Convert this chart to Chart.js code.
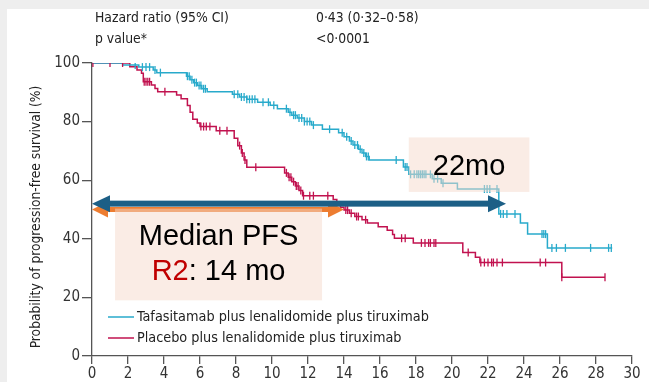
<!DOCTYPE html>
<html>
<head>
<meta charset="utf-8">
<script src="https://cdn.jsdelivr.net/npm/chart.js@4/dist/chart.umd.min.js"></script>
<style>
  html, body { margin: 0; padding: 0; background: #eeeeee; }
  #frame { position: absolute; left: 7px; top: 9px; width: 642px; height: 373px; background: #ffffff; }
  canvas { display: block; }
</style>
</head>
<body>
<div id="frame"><canvas id="km" width="642" height="373"></canvas></div>
<script>
// Kaplan-Meier progression-free survival, two arms.
// Event times (months) and survival (%) just after each step.
const tafaTimes = [0, 1.7, 2.6, 3.4, 3.6, 5.25, 5.45, 5.65, 5.85, 6.1, 6.4, 7.8, 8.2, 8.6, 9.2, 9.9, 10.3, 10.9, 11.1, 11.4, 11.8, 12.2, 12.8, 13.7, 14.0, 14.3, 14.5, 14.8, 15.0, 15.2, 15.4, 17.3, 17.6, 18.9, 19.4, 20.3, 22.6, 23.8, 24.2, 25.3, 28.9];
const tafaSurv  = [100, 99.3, 98.6, 97.6, 96.7, 95.5, 94.3, 93.3, 92.3, 91.2, 90.2, 89.3, 88.4, 87.6, 86.6, 85.6, 84.4, 83.2, 82.2, 81.2, 80.0, 78.8, 77.4, 76.2, 74.8, 73.4, 72.0, 70.6, 69.3, 68.1, 66.9, 64.5, 62.0, 60.5, 59.0, 57.0, 48.5, 45.4, 41.6, 36.9, 36.9];
const tafaCensored = [2.4, 2.8, 3.0, 3.2, 3.5, 3.8, 5.3, 5.4, 5.55, 5.7, 5.8, 5.95, 6.05, 6.2, 6.3, 7.9, 8.1, 8.3, 8.45, 8.6, 8.75, 8.9, 9.05, 9.5, 9.8, 10.1, 10.8, 11.0, 11.2, 11.3, 11.5, 11.65, 11.8, 11.95, 12.1, 12.3, 13.2, 13.9, 14.15, 14.4, 14.6, 14.75, 14.9, 15.1, 15.25, 15.35, 16.9, 17.4, 17.5, 17.7, 17.9, 18.05, 18.15, 18.25, 18.35, 18.45, 18.55, 18.8, 19.0, 19.2, 19.5, 21.8, 21.95, 22.1, 22.5, 22.7, 22.85, 23.05, 23.5, 25.0, 25.1, 25.2, 25.55, 25.8, 26.3, 27.7, 28.7, 28.85];

const placTimes = [0, 2.1, 2.5, 2.75, 2.85, 3.3, 3.5, 3.65, 4.7, 4.95, 5.3, 5.45, 5.6, 5.85, 6.0, 6.9, 7.9, 8.1, 8.3, 8.45, 8.6, 10.7, 10.9, 11.1, 11.3, 11.5, 11.7, 13.4, 13.6, 13.8, 14.0, 14.3, 14.6, 15.0, 15.3, 15.9, 16.4, 16.7, 16.8, 17.85, 20.6, 21.3, 21.55, 26.1, 28.5];
const placSurv  = [100, 98.7, 97.6, 96.5, 93.6, 92.5, 91.3, 90.2, 89.1, 87.8, 85.5, 83.2, 80.8, 79.5, 78.3, 76.9, 74.3, 71.8, 69.3, 66.9, 64.4, 62.5, 61.0, 59.5, 58.0, 56.5, 54.7, 53.4, 52.0, 50.8, 49.8, 48.7, 47.6, 46.5, 45.4, 44.1, 42.9, 41.5, 40.2, 38.6, 35.3, 33.7, 31.9, 26.9, 26.9];
const placCensored = [0.05, 1.0, 1.7, 2.9, 3.0, 3.1, 3.2, 4.05, 6.05, 6.2, 6.35, 6.55, 7.1, 7.5, 8.2, 8.35, 8.5, 9.1, 10.8, 10.95, 11.05, 11.2, 11.35, 11.45, 11.6, 11.75, 12.1, 12.3, 13.1, 14.1, 14.2, 14.4, 14.7, 14.8, 15.2, 17.2, 17.4, 18.3, 18.5, 18.7, 18.8, 19.0, 19.1, 20.9, 21.6, 21.8, 22.0, 22.2, 22.3, 22.5, 22.8, 24.9, 25.2, 26.1, 28.5];

const seriesNames = ['Tafasitamab plus lenalidomide plus tiruximab', 'Placebo plus lenalidomide plus tiruximab'];
const xTicks = [0, 2, 4, 6, 8, 10, 12, 14, 16, 18, 20, 22, 24, 26, 28, 30];
const yTicks = [0, 20, 40, 60, 80, 100];

// Medians (months) and the survival level each indicator arrow sits on
const medianArrows = [
  { label: 'R2', end: 14.0, level: 50, color: '#ed7d31' },
  { label: 'tafa', end: 23.0, level: 52, color: '#1c5f86' }
];
const statNames  = ['Hazard ratio (95% CI)', 'p value*'];
const statValues = ['0·43 (0·32–0·58)', '<0·0001'];

const BLUE = '#28aacb';
const RED = '#c1124f';
const NARROW = '"Liberation Sans Narrow", "DejaVu Sans Condensed", "Liberation Sans", sans-serif';
const SANS = '"Liberation Sans", Arial, sans-serif';

function stepValue(times, surv, t) {
  let v = surv[0];
  for (let i = 0; i < times.length; i++) { if (times[i] <= t) v = surv[i]; else break; }
  return v;
}
const toPoints = (ts, ss) => ts.map((t, i) => ({ x: t, y: ss[i] }));
const censorPoints = (cs, ts, ss) => cs.map(t => ({ x: t, y: stepValue(ts, ss, t) }));

function arrow(ctx, x0, x1, y, shaft, headLen, headHalf, color) {
  ctx.save();
  ctx.fillStyle = color;
  ctx.fillRect(x0 + headLen - 1, y - shaft / 2, (x1 - x0) - 2 * headLen + 2, shaft);
  ctx.beginPath();
  ctx.moveTo(x0, y); ctx.lineTo(x0 + headLen, y - headHalf); ctx.lineTo(x0 + headLen, y + headHalf); ctx.closePath();
  ctx.fill();
  ctx.beginPath();
  ctx.moveTo(x1, y); ctx.lineTo(x1 - headLen, y - headHalf); ctx.lineTo(x1 - headLen, y + headHalf); ctx.closePath();
  ctx.fill();
  ctx.restore();
}

const overlay = {
  id: 'overlay',
  afterDatasetsDraw(chart) {
    const { ctx } = chart;
    const xs = chart.scales.x, ys = chart.scales.y;
    const X = v => xs.getPixelForValue(v), Y = v => ys.getPixelForValue(v);

    // median arrows
    const a0 = medianArrows[0], a1 = medianArrows[1];
    arrow(ctx, X(0), X(a0.end), Y(a0.level), 5, 16, 8, a0.color);
    arrow(ctx, X(0), X(a1.end), Y(a1.level), 6, 18, 8.5, a1.color);

    // translucent call-out boxes
    ctx.save();
    ctx.fillStyle = 'rgba(246, 218, 204, 0.5)';
    ctx.fillRect(X(1.28), Y(50.3), X(12.78) - X(1.28), Y(19.0) - Y(50.3));
    ctx.fillRect(X(17.6), Y(74.6), X(24.3) - X(17.6), Y(56.0) - Y(74.6));
    ctx.restore();

    ctx.save();
    ctx.font = '29px ' + SANS;
    ctx.textBaseline = 'alphabetic';
    ctx.fillStyle = '#000';
    ctx.textAlign = 'center';
    const cx = (X(1.28) + X(12.78)) / 2;
    ctx.fillText('Median PFS', cx, 236);
    const p1 = 'R2', p2 = ': 14 mo';
    const w1 = ctx.measureText(p1).width, w2 = ctx.measureText(p2).width;
    ctx.textAlign = 'left';
    const sx = cx - (w1 + w2) / 2;
    ctx.fillStyle = '#c00000';
    ctx.fillText(p1, sx, 271);
    ctx.fillStyle = '#000';
    ctx.fillText(p2, sx + w1, 271);
    ctx.textAlign = 'center';
    ctx.fillText('22mo', (X(17.6) + X(24.3)) / 2, 166);
    ctx.restore();
  },
  afterDraw(chart) {
    const { ctx } = chart;
    ctx.save();
    ctx.fillStyle = '#222';
    ctx.font = '13.8px ' + NARROW;
    ctx.textBaseline = 'alphabetic';
    ctx.textAlign = 'left';
    statNames.forEach((s, i) => ctx.fillText(s, 88, 13 + i * 21));
    statValues.forEach((s, i) => ctx.fillText(s, 309, 13 + i * 21));

    // axis title
    ctx.font = '13.7px ' + NARROW;
    ctx.translate(29, 208);
    ctx.rotate(-Math.PI / 2);
    ctx.textAlign = 'center';
    ctx.textBaseline = 'middle';
    ctx.fillText('Probability of progression-free survival (%)', 0, 0);
    ctx.restore();

    // legend
    ctx.save();
    ctx.font = '14.3px ' + NARROW;
    ctx.textBaseline = 'middle';
    ctx.textAlign = 'left';
    [BLUE, RED].forEach((c, i) => {
      const y = 308 + i * 21;
      ctx.strokeStyle = c; ctx.lineWidth = 1.5;
      ctx.beginPath(); ctx.moveTo(101, y); ctx.lineTo(127, y); ctx.stroke();
      ctx.fillStyle = '#222';
      ctx.fillText(seriesNames[i], 130, y);
    });
    ctx.restore();
  }
};

const tickFont = { family: NARROW, size: 15 };

new Chart(document.getElementById('km'), {
  type: 'line',
  data: {
    datasets: [
      { label: seriesNames[1], data: toPoints(placTimes, placSurv), borderColor: RED, borderWidth: 1.5, stepped: true, pointRadius: 0, fill: false, order: 4 },
      { label: seriesNames[0], data: toPoints(tafaTimes, tafaSurv), borderColor: BLUE, borderWidth: 1.5, stepped: true, pointRadius: 0, fill: false, order: 3 },
      { type: 'scatter', label: 'censored-placebo', data: censorPoints(placCensored, placTimes, placSurv), pointStyle: 'line', rotation: 90, radius: 4, borderColor: RED, borderWidth: 1.3, order: 2 },
      { type: 'scatter', label: 'censored-tafa', data: censorPoints(tafaCensored, tafaTimes, tafaSurv), pointStyle: 'line', rotation: 90, radius: 4, borderColor: BLUE, borderWidth: 1.3, order: 1 }
    ]
  },
  options: {
    responsive: false,
    animation: false,
    devicePixelRatio: 1,
    layout: { padding: { top: 54, right: 17, left: 0, bottom: 0 } },
    plugins: { legend: { display: false }, tooltip: { enabled: false }, title: { display: false } },
    scales: {
      x: {
        type: 'linear', min: 0, max: 30,
        afterBuildTicks: s => { s.ticks = xTicks.map(v => ({ value: v })); },
        afterFit: s => { s.height = 26; },
        ticks: { font: tickFont, color: '#333', padding: 1, maxRotation: 0 },
        grid: { drawOnChartArea: false, drawTicks: true, tickLength: 8, color: '#555', lineWidth: 1.3 },
        border: { display: true, color: '#555', width: 1.3 }
      },
      y: {
        type: 'linear', min: 0, max: 100,
        afterBuildTicks: s => { s.ticks = yTicks.map(v => ({ value: v })); },
        afterFit: s => { s.width = 85; },
        ticks: { font: tickFont, color: '#333', padding: 2 },
        grid: { drawOnChartArea: false, drawTicks: true, tickLength: 10, color: '#555', lineWidth: 1.3 },
        border: { display: true, color: '#555', width: 1.3 }
      }
    }
  },
  plugins: [overlay]
});
</script>
</body>
</html>
